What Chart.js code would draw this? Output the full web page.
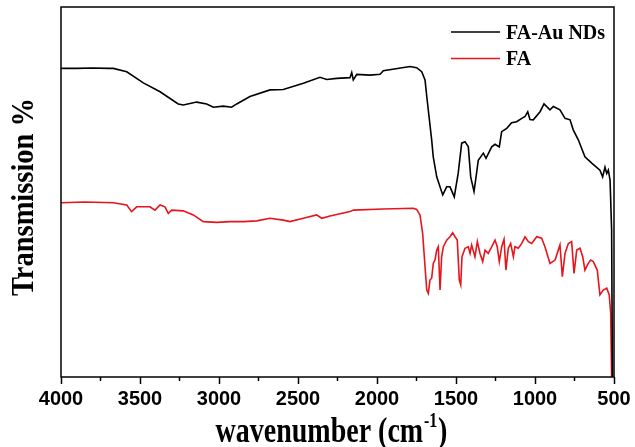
<!DOCTYPE html>
<html>
<head>
<meta charset="utf-8">
<script src="https://cdn.jsdelivr.net/npm/chart.js@4.4.1/dist/chart.umd.min.js"></script>
<style>
  html, body { margin: 0; padding: 0; background: #fff; }
  canvas { display: block; }
</style>
</head>
<body>
<canvas id="ftir" width="635" height="447"></canvas>
<script>
// FT-IR spectra: wavenumber (cm-1) and relative transmission
const seriesNames = ['FA-Au NDs', 'FA'];
const seriesColors = ['#000000', '#e8141b'];

const faAuWn = [4000, 3900, 3800, 3700, 3669, 3584, 3479, 3373, 3258, 3226, 3141, 3078, 3036, 2973, 2920, 2888, 2804, 2677, 2593, 2466, 2361, 2318, 2255, 2171, 2160, 2150, 2128, 2044, 1981, 1970, 1960, 1791, 1749, 1717, 1696, 1685, 1654, 1644, 1622, 1584, 1559, 1538, 1511, 1486, 1464, 1443, 1422, 1407, 1386, 1373, 1359, 1327, 1310, 1289, 1274, 1253, 1226, 1211, 1179, 1148, 1116, 1084, 1063, 1046, 1032, 1011, 968, 943, 905, 884, 842, 810, 778, 758, 726, 684, 641, 589, 572, 557, 546, 536, 525, 515, 510];
const faAuT = [83.4, 83.4, 83.5, 83.4, 83.4, 82.5, 79.5, 77.1, 73.8, 73.5, 74.3, 73.8, 72.9, 73.2, 72.9, 73.8, 75.8, 77.6, 77.7, 79.4, 81.0, 80.4, 80.7, 80.9, 82.3, 80.3, 81.8, 81.6, 81.8, 82.3, 82.8, 83.9, 83.6, 82.5, 80.3, 75.8, 64.1, 59.5, 54.1, 49.2, 51.4, 51.4, 48.7, 55.1, 63.2, 63.6, 62.2, 54.1, 50.1, 54.1, 58.6, 60.5, 59.1, 60.9, 62.2, 62.9, 62.2, 66.3, 67.2, 68.7, 69.0, 69.9, 70.4, 71.7, 69.6, 69.5, 71.7, 73.8, 72.2, 73.1, 72.2, 69.9, 69.5, 66.8, 64.1, 59.5, 57.8, 55.9, 54.1, 56.7, 55.0, 55.9, 53.2, 39.7, 0];

const faWn = [4000, 3850, 3669, 3584, 3553, 3521, 3437, 3405, 3373, 3342, 3321, 3300, 3226, 3163, 3099, 3015, 2930, 2846, 2761, 2677, 2593, 2551, 2466, 2382, 2350, 2297, 2171, 2150, 1960, 1770, 1749, 1728, 1711, 1696, 1685, 1675, 1665, 1654, 1644, 1633, 1622, 1612, 1601, 1591, 1580, 1559, 1538, 1521, 1506, 1492, 1479, 1470, 1462, 1443, 1422, 1411, 1401, 1380, 1365, 1348, 1331, 1316, 1296, 1274, 1253, 1239, 1226, 1211, 1196, 1184, 1169, 1154, 1137, 1127, 1106, 1084, 1063, 1042, 1021, 989, 958, 937, 905, 873, 842, 827, 810, 789, 768, 753, 736, 715, 698, 684, 663, 648, 631, 606, 589, 568, 546, 530, 521, 515];
const faT = [47.1, 47.3, 47.1, 46.5, 44.7, 46.0, 46.0, 45.1, 46.5, 46.0, 44.2, 45.1, 44.9, 43.8, 42.0, 41.8, 42.0, 42.0, 42.2, 42.9, 42.4, 42.0, 42.9, 43.8, 42.9, 43.5, 44.7, 45.1, 45.4, 45.6, 45.3, 43.8, 38.8, 29.8, 23.5, 22.6, 26.2, 26.7, 30.7, 31.6, 34.3, 35.2, 23.5, 32.5, 35.2, 37.0, 37.9, 39.0, 37.9, 37.0, 26.2, 24.9, 32.5, 34.8, 35.2, 33.4, 35.7, 32.5, 36.6, 33.4, 31.2, 34.3, 33.4, 35.2, 37.0, 35.2, 31.2, 35.2, 37.2, 28.9, 34.8, 36.1, 32.5, 35.2, 34.8, 36.1, 37.9, 36.6, 36.1, 37.9, 37.5, 35.2, 30.7, 31.6, 35.7, 27.1, 33.4, 36.1, 36.6, 28.0, 34.3, 34.8, 32.5, 28.9, 30.7, 31.6, 31.2, 28.9, 22.2, 23.5, 24.0, 22.2, 17.2, 0.1];

const xMin = 500, xMax = 4000, xMajorStep = 500, xMinorStep = 250;
const xTitle = 'wavenumber (cm', xTitleSup = '-1', xTitleEnd = ')';
const yTitle = 'Transmission %';

const toPoints = (xs, ys) => xs.map((v, i) => ({ x: v, y: ys[i] }));

const serif = '"Liberation Serif", "Times New Roman", serif';

// frame, minor ticks, legend and condensed axis titles
const decorations = {
  id: 'decorations',
  afterDraw(chart) {
    const { ctx, chartArea: a, scales: { x } } = chart;
    ctx.save();
    ctx.strokeStyle = '#000';
    ctx.fillStyle = '#000';
    ctx.lineWidth = 1.5;

    // minor ticks between labelled ones
    for (let v = xMin + xMinorStep; v < xMax; v += xMajorStep) {
      const px = x.getPixelForValue(v);
      ctx.beginPath();
      ctx.moveTo(px, a.bottom);
      ctx.lineTo(px, a.bottom + 4);
      ctx.stroke();
    }

    // plot frame
    ctx.strokeRect(a.left, a.top, a.right - a.left, a.bottom - a.top);

    // legend in the upper right corner
    chart.data.datasets.forEach((ds, i) => {
      const ly = a.top + 25 + i * 26.5;
      ctx.strokeStyle = ds.borderColor;
      ctx.lineWidth = 1.5;
      ctx.beginPath();
      ctx.moveTo(a.right - 163, ly);
      ctx.lineTo(a.right - 114, ly);
      ctx.stroke();
      ctx.font = 'bold 20px ' + serif;
      ctx.textAlign = 'left';
      ctx.textBaseline = 'alphabetic';
      ctx.fillStyle = '#000';
      ctx.fillText(ds.label, a.right - 108, ly + 6.5);
    });

    // x axis title with superscript
    ctx.save();
    const cx = (a.left + a.right) / 2 - 6;
    const sx = 0.8;
    ctx.translate(cx, 442);
    ctx.scale(sx, 1);
    ctx.textBaseline = 'alphabetic';
    ctx.textAlign = 'left';
    const big = 'bold 35px ' + serif, small = 'bold 20px ' + serif;
    ctx.font = big;
    const w1 = ctx.measureText(xTitle).width;
    const w3 = ctx.measureText(xTitleEnd).width;
    ctx.font = small;
    const w2 = ctx.measureText(xTitleSup).width;
    let tx = -(w1 + w2 + w3 + 2) / 2;
    ctx.font = big;
    ctx.fillText(xTitle, tx, 0);
    tx += w1 + 1;
    ctx.font = small;
    ctx.fillText(xTitleSup, tx, -15);
    tx += w2 + 1;
    ctx.font = big;
    ctx.fillText(xTitleEnd, tx, 0);
    ctx.restore();

    // y axis title, rotated
    ctx.save();
    ctx.translate(33, (a.top + a.bottom) / 2 + 5);
    ctx.rotate(-Math.PI / 2);
    ctx.scale(0.89, 1);
    ctx.font = 'bold 32px ' + serif;
    ctx.textAlign = 'center';
    ctx.textBaseline = 'alphabetic';
    ctx.fillText(yTitle, 0, 0);
    ctx.restore();

    ctx.restore();
  }
};

new Chart(document.getElementById('ftir'), {
  type: 'line',
  data: {
    datasets: [
      { label: seriesNames[0], data: toPoints(faAuWn, faAuT), borderColor: seriesColors[0], borderWidth: 1.6 },
      { label: seriesNames[1], data: toPoints(faWn, faT), borderColor: seriesColors[1], borderWidth: 1.6 }
    ]
  },
  options: {
    responsive: false,
    animation: false,
    elements: { point: { radius: 0 }, line: { tension: 0, fill: false } },
    layout: { padding: { left: 61, right: 21, top: 7, bottom: 0 } },
    plugins: { legend: { display: false }, tooltip: { enabled: false } },
    scales: {
      x: {
        type: 'linear',
        reverse: true,
        min: xMin,
        max: xMax,
        afterFit(scale) { scale.height = 70; },
        border: { display: false },
        grid: { drawOnChartArea: false, drawTicks: true, tickLength: 7, color: '#000', tickWidth: 1.5 },
        ticks: {
          stepSize: xMajorStep,
          padding: 3,
          color: '#000',
          font: { family: '"Liberation Sans", Arial, sans-serif', size: 20, weight: 'bold' },
          maxRotation: 0,
          autoSkip: false,
          callback: (v) => String(v)
        }
      },
      y: {
        type: 'linear',
        min: 0,
        max: 100,
        display: false
      }
    }
  },
  plugins: [decorations]
});
</script>
</body>
</html>
